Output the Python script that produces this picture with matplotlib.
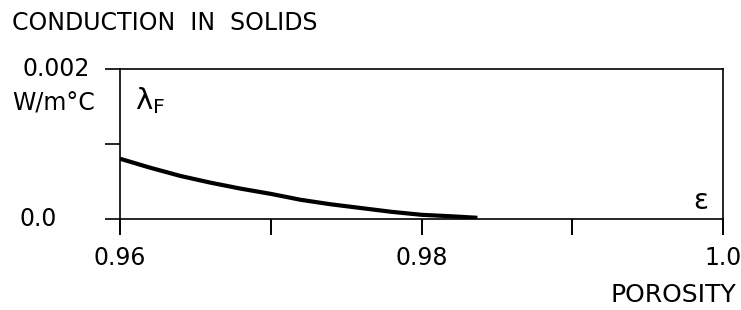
# Conduction in solids: lambda_F against porosity

import matplotlib
matplotlib.use('Agg')
import matplotlib.pyplot as plt

# values
porosity = [0.960, 0.962, 0.964, 0.966, 0.968, 0.970, 0.972,
            0.974, 0.976, 0.978, 0.980, 0.982, 0.9837]
lambda_f = [0.00080, 0.00068, 0.00057, 0.00048, 0.00040, 0.00033, 0.00025,
            0.00019, 0.00014, 0.00009, 0.00005, 0.00003, 0.00001]

x_ticks = [0.96, 0.97, 0.98, 0.99, 1.0]
x_tick_labels = ['0.96', '', '0.98', '', '1.0']
y_ticks = [0.0, 0.001, 0.002]


def run():
    plt.rcParams['font.family'] = 'DejaVu Sans'
    plt.rcParams['mathtext.default'] = 'regular'

    fig = plt.figure(figsize=(7.41, 3.10), dpi=100)
    ax = fig.add_axes([0.162, 0.295, 0.814, 0.4823])

    ax.plot(porosity, lambda_f, color='black', linewidth=3, solid_capstyle='butt')

    ax.set_xlim(0.96, 1.0)
    ax.set_ylim(0.0, 0.002)

    # box and ticks
    for side in ax.spines.values():
        side.set_linewidth(1.2)
    ax.set_xticks(x_ticks)
    ax.set_xticklabels(x_tick_labels)
    ax.set_yticks(y_ticks)
    ax.set_yticklabels([])
    ax.tick_params(axis='x', direction='out', length=11.5, width=1.4,
                   pad=8, labelsize=17)
    ax.tick_params(axis='y', direction='out', length=11, width=1.2)

    # y labels sit well to the left of the axis
    ytrans = ax.get_yaxis_transform()
    ax.text(-0.05, 0.002, '0.002', transform=ytrans, ha='right', va='center', fontsize=17)
    ax.text(-0.104, 0.0, '0.0', transform=ytrans, ha='right', va='center', fontsize=17)
    fig.text(0.016, 0.665, 'W/m°C', ha='left', va='center', fontsize=17)

    # symbols inside the box
    ax.text(0.024, 0.79, '$λ_F$', transform=ax.transAxes, ha='left', va='center', fontsize=21)
    ax.text(0.975, 0.12, 'ε', transform=ax.transAxes, ha='right', va='center', fontsize=20)

    # title and axis name
    fig.text(0.016, 0.925, 'CONDUCTION  IN  SOLIDS', ha='left', va='center', fontsize=17)
    fig.text(0.993, 0.05, 'POROSITY', ha='right', va='center', fontsize=18)

    fig.savefig('out.png', dpi=100)


if __name__ == '__main__':
    run()
